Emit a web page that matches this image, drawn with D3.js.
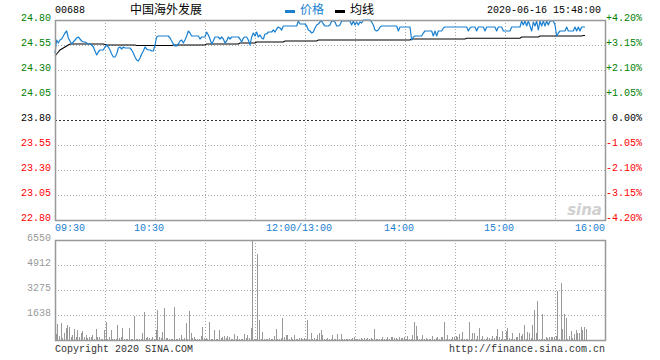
<!DOCTYPE html>
<html><head><meta charset="utf-8">
<script src="https://cdn.jsdelivr.net/npm/d3@7/dist/d3.min.js"></script>
<style>
body{margin:0;background:#fff}
text{font-family:"Liberation Mono","DejaVu Sans Mono",monospace;font-size:10px}
</style>
</head><body>
<svg id="c" width="660" height="360"></svg>
<script>
const stockCode = "00688";
const stockName = "中国海外发展";
const stamp = "2020-06-16 15:48:00";
const legendNames = ["价格", "均线"];
const prevClose = 23.80;
const priceTicks = [24.80, 24.55, 24.30, 24.05, 23.80, 23.55, 23.30, 23.05, 22.80];
const priceLabels = ["24.80","24.55","24.30","24.05","23.80","23.55","23.30","23.05","22.80"];
const pctLabels = ["+4.20%","+3.15%","+2.10%","+1.05%","0.00%","-1.05%","-2.10%","-3.15%","-4.20%"];
const volTicks = [6550, 4912, 3275, 1638];
const volMax = 6550;
const timeTicks = [0, 60, 150, 210, 270, 330];
const timeLabels = ["09:30","10:30","12:00/13:00","14:00","15:00","16:00"];
const totalMinutes = 330;
const footerLeft = "Copyright 2020 SINA.COM";
const footerRight = "http://finance.sina.com.cn";

const price = [
24.47,24.60,24.57,24.60,24.61,24.64,24.67,24.69,24.62,24.59,
24.56,24.58,24.60,24.62,24.63,24.61,24.59,24.58,24.58,24.57,
24.56,24.56,24.55,24.53,24.49,24.45,24.48,24.50,24.50,24.50,
24.53,24.55,24.53,24.50,24.46,24.43,24.43,24.46,24.52,24.53,
24.51,24.53,24.52,24.52,24.52,24.52,24.50,24.47,24.43,24.40,
24.39,24.42,24.46,24.49,24.53,24.51,24.50,24.50,24.49,24.49,
24.55,24.63,24.64,24.64,24.64,24.64,24.64,24.64,24.64,24.62,
24.59,24.56,24.54,24.54,24.56,24.59,24.60,24.57,24.60,24.64,
24.69,24.67,24.64,24.64,24.64,24.64,24.64,24.61,24.63,24.63,
24.63,24.68,24.65,24.61,24.56,24.59,24.63,24.63,24.63,24.61,
24.63,24.61,24.57,24.59,24.63,24.61,24.63,24.63,24.63,24.63,
24.63,24.61,24.58,24.62,24.63,24.63,24.60,24.55,24.63,24.67,
24.64,24.68,24.63,24.65,24.62,24.61,24.66,24.66,24.68,24.68,
24.68,24.70,24.68,24.71,24.73,24.72,24.70,24.74,24.74,24.74,
24.74,24.74,24.74,24.74,24.74,24.74,24.79,24.76,24.76,24.76,
24.76,24.74,24.70,24.69,24.67,24.68,24.72,24.75,24.76,24.78,
24.79,24.76,24.74,24.74,24.74,24.75,24.79,24.79,24.78,24.74,
24.74,24.75,24.79,24.79,24.79,24.79,24.79,24.79,24.75,24.79,
24.75,24.78,24.75,24.78,24.77,24.80,24.80,24.80,24.80,24.80,
24.78,24.75,24.70,24.69,24.70,24.73,24.74,24.74,24.74,24.74,
24.74,24.74,24.74,24.74,24.74,24.74,24.69,24.73,24.73,24.73,
24.73,24.73,24.73,24.73,24.60,24.63,24.64,24.64,24.64,24.64,
24.64,24.67,24.69,24.69,24.69,24.69,24.69,24.64,24.69,24.64,
24.69,24.69,24.69,24.72,24.73,24.73,24.73,24.73,24.73,24.73,
24.73,24.73,24.73,24.73,24.73,24.73,24.73,24.73,24.69,24.72,
24.73,24.73,24.73,24.69,24.73,24.73,24.73,24.73,24.69,24.73,
24.73,24.73,24.73,24.73,24.73,24.69,24.73,24.73,24.73,24.69,
24.69,24.69,24.69,24.69,24.73,24.73,24.73,24.73,24.73,24.73,
24.79,24.75,24.79,24.74,24.79,24.74,24.69,24.78,24.74,24.79,
24.70,24.79,24.74,24.79,24.74,24.79,24.75,24.79,24.79,24.79,
24.75,24.64,24.67,24.69,24.69,24.69,24.69,24.73,24.69,24.69,
24.69,24.69,24.73,24.69,24.73,24.69,24.73,24.73,24.73
];

const avgPrice = [
24.44,24.46,24.48,24.50,24.51,24.52,24.53,24.54,24.55,24.56,
24.56,24.56,24.56,24.56,24.56,24.56,24.56,24.56,24.56,24.56,
24.56,24.56,24.56,24.56,24.56,24.56,24.56,24.56,24.56,24.56,
24.555,24.55,24.55,24.55,24.55,24.55,24.55,24.55,24.55,24.55,
24.55,24.55,24.55,24.55,24.55,24.55,24.55,24.55,24.55,24.545,
24.545,24.545,24.545,24.545,24.545,24.545,24.545,24.545,24.545,24.545,
24.545,24.545,24.545,24.545,24.545,24.545,24.545,24.545,24.545,24.545,
24.545,24.55,24.55,24.55,24.55,24.55,24.55,24.55,24.55,24.55,
24.55,24.55,24.55,24.55,24.55,24.55,24.55,24.55,24.55,24.55,
24.55,24.56,24.56,24.56,24.56,24.56,24.56,24.56,24.56,24.56,
24.56,24.56,24.56,24.56,24.56,24.56,24.56,24.56,24.56,24.56,
24.56,24.57,24.57,24.57,24.57,24.57,24.57,24.57,24.57,24.57,
24.57,24.58,24.58,24.58,24.58,24.58,24.58,24.58,24.58,24.58,
24.58,24.58,24.58,24.58,24.58,24.58,24.58,24.58,24.59,24.59,
24.59,24.59,24.59,24.59,24.59,24.59,24.59,24.59,24.59,24.59,
24.59,24.59,24.59,24.59,24.59,24.59,24.59,24.59,24.60,24.60,
24.60,24.60,24.60,24.60,24.60,24.60,24.60,24.60,24.60,24.60,
24.60,24.60,24.60,24.60,24.60,24.60,24.60,24.60,24.60,24.60,
24.60,24.60,24.60,24.60,24.60,24.60,24.60,24.60,24.60,24.60,
24.60,24.60,24.60,24.60,24.60,24.60,24.60,24.60,24.60,24.60,
24.60,24.60,24.60,24.60,24.60,24.60,24.60,24.60,24.60,24.60,
24.60,24.60,24.60,24.60,24.61,24.61,24.61,24.61,24.61,24.61,
24.61,24.61,24.61,24.61,24.61,24.61,24.61,24.61,24.61,24.61,
24.61,24.61,24.61,24.61,24.61,24.61,24.61,24.61,24.61,24.61,
24.61,24.61,24.61,24.61,24.61,24.61,24.61,24.617,24.617,24.617,
24.617,24.617,24.617,24.617,24.617,24.617,24.617,24.617,24.617,24.617,
24.617,24.617,24.617,24.617,24.617,24.617,24.617,24.617,24.617,24.617,
24.617,24.617,24.617,24.617,24.617,24.617,24.617,24.617,24.617,24.617,
24.63,24.63,24.63,24.63,24.63,24.63,24.63,24.63,24.63,24.63,
24.63,24.64,24.64,24.64,24.64,24.64,24.64,24.64,24.64,24.64,
24.64,24.64,24.64,24.64,24.64,24.64,24.64,24.64,24.64,24.64,
24.64,24.64,24.64,24.64,24.64,24.64,24.64,24.645,24.645
];

const volume = [
400,1048,262,1113,109,437,764,961,830,218,
328,699,218,655,218,480,560,175,328,109,
218,218,328,44,720,218,218,44,66,655,
1201,87,175,655,44,44,44,983,109,175,
786,66,44,44,786,66,44,1572,44,66,
66,66,459,1834,109,175,109,66,175,44,
655,1965,218,109,524,2096,109,153,66,87,
87,2162,66,87,153,328,87,153,1092,87,
1900,437,131,175,66,66,66,262,830,109,
153,87,1179,66,66,655,66,87,655,109,
175,262,153,262,197,66,44,393,66,262,
87,66,66,393,109,328,153,786,6550,87,
66,5633,1310,87,524,66,44,44,109,44,
44,240,699,66,66,109,1441,218,328,328,
66,175,44,306,87,66,109,153,66,109,
66,1310,66,459,66,153,66,306,437,
655,328,44,66,131,66,66,306,44,66,
393,87,371,66,44,66,44,66,66,109,
197,66,44,66,153,87,109,66,131,66,
153,44,720,66,66,87,87,197,66,66,
218,66,197,197,109,131,87,175,109,131,
218,87,240,66,87,328,1179,917,262,87,
66,306,44,131,66,44,66,262,44,153,
218,66,175,218,1179,66,328,44,66,197,
197,262,175,393,44,524,44,66,66,1179,
66,459,459,66,262,786,66,240,44,66,
197,153,66,240,131,240,742,197,66,590,
44,611,786,109,66,459,66,218,175,437,
240,371,983,66,546,459,131,983,1965,480,
2555,66,66,1703,66,175,131,175,175,197,
197,240,3210,66,3755,720,1703,1419,66,284,
590,153,393,655,437,480,830,655,830,742
];

const svg = d3.select("#c");
svg.append("rect").attr("width",660).attr("height",360).attr("fill","#fff");

const L = 55, R = 605, PT = 20, PB = 220, VT = 240, VB = 340;
const GRID = "#aaaaaa", BORDER = "#999999", BLUE = "#1a80d0", GREEN = "#008000", RED = "#ff0000";

const x = d3.scaleLinear().domain([0, totalMinutes]).range([L, R]);
const y = d3.scaleLinear().domain([priceTicks[priceTicks.length-1], priceTicks[0]]).range([PB, PT]);
const yv = d3.scaleLinear().domain([0, volMax]).range([VB, VT]);

const colorFor = v => v > prevClose + 1e-9 ? GREEN : (v < prevClose - 1e-9 ? RED : "#000");

// ---- grids
const vGrid = d3.range(30, totalMinutes, 30);
function vGridLines(top, bottom) {
  svg.append("g").selectAll("line").data(vGrid).join("line")
    .attr("x1", d => Math.round(x(d)) + 0.5).attr("x2", d => Math.round(x(d)) + 0.5)
    .attr("y1", top).attr("y2", bottom)
    .attr("stroke", GRID).attr("stroke-dasharray", "1,2");
}
vGridLines(PT, PB);
vGridLines(VT, VB);

svg.append("g").selectAll("line").data(priceTicks.slice(1, -1).filter(d => d !== prevClose)).join("line")
  .attr("x1", L).attr("x2", R)
  .attr("y1", d => Math.round(y(d)) + 0.5).attr("y2", d => Math.round(y(d)) + 0.5)
  .attr("stroke", GRID).attr("stroke-dasharray", "1,2");

svg.append("line").attr("x1", L).attr("x2", R)
  .attr("y1", Math.round(y(prevClose)) + 0.5).attr("y2", Math.round(y(prevClose)) + 0.5)
  .attr("stroke", "#333").attr("stroke-dasharray", "2,2");

svg.append("g").selectAll("line").data(volTicks.slice(1)).join("line")
  .attr("x1", L).attr("x2", R)
  .attr("y1", d => Math.round(yv(d)) + 0.5).attr("y2", d => Math.round(yv(d)) + 0.5)
  .attr("stroke", GRID).attr("stroke-dasharray", "1,2");

// ---- watermark
svg.append("text").attr("x", R - 3).attr("y", PB - 5).attr("text-anchor", "end")
  .style("font-family", "DejaVu Sans").style("font-size", "15px").style("font-style", "italic")
  .style("font-weight", "bold").attr("fill", "#d0d0d0").text("sina");

// ---- volume bars
svg.append("g").attr("shape-rendering", "crispEdges").selectAll("rect").data(volume).join("rect")
  .attr("x", (d, i) => Math.round(x(i) + 0.5))
  .attr("width", 1)
  .attr("y", d => yv(d))
  .attr("height", d => VB - yv(d))
  .attr("fill", "#999999");

// ---- lines
const line = d3.line().x((d, i) => x(i)).y(d => y(d));
svg.append("path").datum(avgPrice).attr("d", line).attr("fill", "none")
  .attr("stroke", "#000").attr("stroke-width", 1.1);
svg.append("path").datum(price).attr("d", line).attr("fill", "none")
  .attr("stroke", BLUE).attr("stroke-width", 1.2).attr("stroke-linejoin", "round");

// ---- borders
svg.append("rect").attr("x", L + 0.5).attr("y", PT + 0.5).attr("width", R - L).attr("height", PB - PT)
  .attr("fill", "none").attr("stroke", BORDER).attr("stroke-width", 1.5);
svg.append("rect").attr("x", L + 0.5).attr("y", VT + 0.5).attr("width", R - L).attr("height", VB - VT)
  .attr("fill", "none").attr("stroke", BORDER).attr("stroke-width", 1.5);

// ---- axis labels
svg.append("g").selectAll("text").data(priceTicks).join("text")
  .attr("x", 51).attr("y", d => y(d) + 1).attr("text-anchor", "end")
  .attr("fill", d => colorFor(d)).text((d, i) => priceLabels[i]);

svg.append("g").selectAll("text").data(priceTicks).join("text")
  .attr("x", 642).attr("y", d => y(d) + 1).attr("text-anchor", "end")
  .attr("fill", d => colorFor(d)).text((d, i) => pctLabels[i]);

svg.append("g").selectAll("text").data(volTicks).join("text")
  .attr("x", 51).attr("y", d => yv(d) + 1).attr("text-anchor", "end")
  .attr("fill", "#999999").text(d => d);

svg.append("g").selectAll("text").data(timeTicks).join("text")
  .attr("x", (d, i) => i === 0 ? L : (i === timeTicks.length - 1 ? R : x(d) - 6))
  .attr("y", 231)
  .attr("text-anchor", (d, i) => i === 0 ? "start" : (i === timeTicks.length - 1 ? "end" : "middle"))
  .attr("fill", BLUE).text((d, i) => timeLabels[i]);

// ---- header
svg.append("text").attr("x", L).attr("y", 13).attr("fill", "#000").text(stockCode);
svg.append("text").attr("x", 130).attr("y", 14).attr("fill", "#000")
  .style("font-family", "'Noto Sans CJK SC'").style("font-size", "12px").text(stockName);
svg.append("rect").attr("x", 285).attr("y", 10).attr("width", 10).attr("height", 3).attr("fill", BLUE);
svg.append("text").attr("x", 300).attr("y", 14).attr("fill", BLUE)
  .style("font-family", "'Noto Sans CJK SC'").style("font-size", "12px").text(legendNames[0]);
svg.append("rect").attr("x", 335).attr("y", 10).attr("width", 10).attr("height", 3).attr("fill", "#000");
svg.append("text").attr("x", 350).attr("y", 14).attr("fill", "#000")
  .style("font-family", "'Noto Sans CJK SC'").style("font-size", "12px").text(legendNames[1]);
svg.append("text").attr("x", 601).attr("y", 13).attr("text-anchor", "end").attr("fill", "#000").text(stamp);

// ---- footer
svg.append("text").attr("x", L).attr("y", 352).attr("fill", "#333").text(footerLeft);
svg.append("text").attr("x", R).attr("y", 352).attr("text-anchor", "end").attr("fill", "#333").text(footerRight);
</script>
</body></html>
